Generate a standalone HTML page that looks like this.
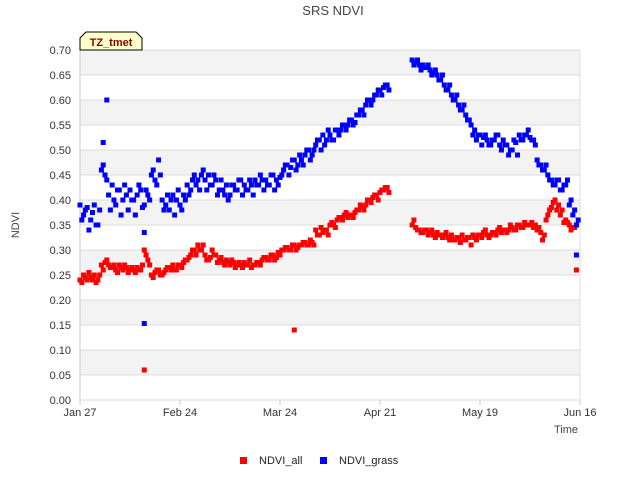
<!DOCTYPE html>
<html><head><meta charset="utf-8"><style>
body{margin:0;background:#fff;font-family:"Liberation Sans",sans-serif}
</style></head><body>
<svg id="chart" width="640" height="480" xmlns="http://www.w3.org/2000/svg" font-family="Liberation Sans, sans-serif">
<text x="333" y="15" text-anchor="middle" font-size="13" fill="#444">SRS NDVI</text>
<g id="bands"></g>
<g id="grid"></g>
<g id="yticks"></g>
<g id="xticks"></g>
<g id="marks"></g>
<text x="19" y="225" text-anchor="middle" font-size="11" fill="#444" transform="rotate(-90 19 225)">NDVI</text>
<text x="578" y="433" text-anchor="end" font-size="11" fill="#444">Time</text>
<g>
<path d="M80,50 L80,38 L86,32 L136,32 L142,38 L142,50 Z" fill="#ffffcc" stroke="#000" stroke-width="1"/>
<text x="111" y="46" text-anchor="middle" font-size="11" font-weight="bold" fill="#8b0000">TZ_tmet</text>
</g>
<g>
<g><rect x="240" y="457" width="7" height="7" fill="#f00"/><text x="259" y="464" font-size="11" fill="#222">NDVI_all</text></g>
<g><rect x="320" y="457" width="7" height="7" fill="#00f"/><text x="339" y="464" font-size="11" fill="#222">NDVI_grass</text></g>
</g>
</svg>
<script>
const xTickLabels=["Jan 27","Feb 24","Mar 24","Apr 21","May 19","Jun 16"];
const xTickDays=[0,28,56,84,112,140];
const yTicks=[0,0.05,0.1,0.15,0.2,0.25,0.3,0.35,0.4,0.45,0.5,0.55,0.6,0.65,0.7];
const N=null;
const allA=[.24,.25,.24,.245,.25,.24,.27,.275,.27,.265,.26,.27,.26,.265,.26,.26,.265,.26,.30,.28,.25,.255,.26,.25,.26,.265,.27,.26,.27,.275,.28,.29,.30,.31,.30,.29,.28,.30,.29,.28,.275,.28,.27,.275,.27,.27,.275,.27,.265,.27,.275,.28,.285,.28,.29,.285,.29,.30,.305,.30,.31,.305,.31,.315,.31,.315,.34,.33,.335,.34,.35,.35,.36,.365,.37,.365,.37,.375,.38,.385,.39,.40,.405,.41,.415,.42,.425,N,N,N,N,N,N,.35,.345,.34,.335,.34,.335,.33,.335,.33,.33,.325,.33,.32,.325,.33,.32,.325,.33,.32,.33,.335,.33,.33,.335,.34,.335,.34,.34,.345,.34,.35,.345,.35,.35,.345,.34,.335,.33,.37,.385,.40,.39,.38,.36,.35,.345,.35];
const allB=[.235,.245,.255,.24,.235,.25,.26,.28,.265,.27,.255,.265,.27,.255,.265,.255,.26,.27,.29,.27,.245,.26,.25,.255,.265,.26,.26,.27,.265,.28,.285,.30,.29,.30,.31,.28,.285,.29,.275,.285,.27,.275,.28,.265,.275,.265,.27,.28,.27,.275,.27,.285,.28,.29,.28,.295,.30,.305,.30,.31,.30,.31,.315,.31,.32,.31,.33,.345,.34,.33,.355,.345,.365,.36,.375,.37,.365,.38,.39,.38,.40,.395,.41,.40,.42,.425,.415,N,N,N,N,N,N,.36,.34,.335,.34,.33,.34,.325,.33,.325,.335,.32,.32,.325,.315,.32,.325,.31,.325,.33,.325,.34,.325,.335,.33,.345,.34,.335,.35,.34,.35,.345,.355,.35,.355,.35,.345,.32,.36,.38,.395,.38,.37,.355,.355,.34,.345];
const grassA=[.39,.37,.385,.36,.39,.35,.46,.45,.41,.43,.39,.42,.40,.41,.42,.40,.41,.42,.39,.41,.45,.44,.48,.40,.39,.38,.41,.40,.39,.41,.43,.42,.45,.44,.45,.44,.45,.43,.44,.42,.42,.43,.41,.43,.42,.44,.43,.42,.43,.44,.43,.44,.44,.43,.45,.44,.445,.46,.47,.465,.48,.47,.48,.49,.50,.49,.51,.52,.53,.52,.53,.52,.54,.54,.55,.55,.56,.555,.57,.58,.59,.60,.60,.61,.62,.625,.63,N,N,N,N,N,N,.68,.675,.67,.67,.665,.66,.655,.65,.64,.63,.62,.61,.60,.59,.58,.57,.56,.53,.52,.53,.525,.52,.51,.52,.53,.50,.51,.49,.50,.515,.53,.52,.53,.525,.52,.48,.47,.46,.45,.44,.43,.44,.42,.43,.39,.37,.35];
const grassB=[.36,.38,.34,.375,.35,.38,.47,.44,.38,.40,.42,.37,.43,.38,.40,.37,.43,.385,.42,.40,.46,.43,.45,.38,.41,.40,.37,.42,.38,.40,.41,.44,.43,.42,.46,.42,.43,.45,.41,.44,.41,.40,.43,.42,.44,.41,.42,.44,.41,.43,.45,.42,.43,.45,.42,.43,.45,.47,.45,.48,.46,.49,.47,.50,.48,.50,.52,.50,.51,.54,.52,.54,.53,.55,.54,.56,.55,.57,.58,.57,.60,.59,.61,.62,.61,.63,.62,N,N,N,N,N,N,.67,.68,.66,.665,.67,.65,.66,.64,.65,.62,.63,.60,.61,.58,.59,.56,.55,.54,.53,.51,.53,.51,.52,.53,.51,.52,.51,.50,.52,.49,.52,.53,.54,.52,.51,.47,.46,.47,.44,.43,.44,.42,.43,.44,.40,.38,.36];
const outDays=[18,60,139,6.5,7.5,18,18,139];
const outVals=[0.06,0.14,0.26,0.515,0.60,0.335,0.153,0.29];
const outSeries=["all","all","all","grass","grass","grass","grass","grass"];
const X0=80,X1=580,Y0=400,Y1=50,DMAX=140,VMAX=0.7;
const xs=d=>X0+(X1-X0)*d/DMAX, ys=v=>Y0-(Y0-Y1)*v/VMAX;
const NS="http://www.w3.org/2000/svg";
function mk(t,a,p){const e=document.createElementNS(NS,t);for(const k in a)e.setAttribute(k,a[k]);p.appendChild(e);return e;}
const bands=document.getElementById('bands'),grid=document.getElementById('grid'),yt=document.getElementById('yticks'),xt=document.getElementById('xticks'),marks=document.getElementById('marks');
for(let i=0;i<yTicks.length-1;i++){ if(i%2===1){const r=mk('rect',{x:X0,y:ys(yTicks[i+1]),width:X1-X0,height:ys(yTicks[i])-ys(yTicks[i+1]),fill:'#f3f3f3'},bands);}}
yTicks.forEach(v=>{const l=mk('line',{x1:X0,x2:X1,y1:ys(v),y2:ys(v),stroke:'#ddd'},grid);
const t=mk('text',{x:X0-9,y:ys(v)+4,'text-anchor':'end','font-size':11,fill:'#333'},yt);t.textContent=v.toFixed(2);});
mk('line',{x1:X0,x2:X0,y1:Y1,y2:Y0,stroke:'#ccc'},grid);mk('line',{x1:X1,x2:X1,y1:Y1,y2:Y0,stroke:'#ddd'},grid);
xTickDays.forEach((d,i)=>{mk('line',{x1:xs(d),x2:xs(d),y1:Y0,y2:Y0+5,stroke:'#ccc'},xt);const t=mk('text',{x:xs(d),y:Y0+16,'text-anchor':'middle','font-size':11,fill:'#333'},xt);t.textContent=xTickLabels[i];});
function pt(d,v,c,n){const r=mk('rect',{x:xs(d)-2.5,y:ys(v)-2.5,width:5,height:5,fill:c},marks);}
allA.forEach((v,d)=>{if(v!==null)pt(d,v,'#f00','point-ndvi-all');});
allB.forEach((v,d)=>{if(v!==null)pt(d+0.5,v,'#f00','point-ndvi-all');});
grassA.forEach((v,d)=>{if(v!==null)pt(d,v,'#00f','point-ndvi-grass');});
grassB.forEach((v,d)=>{if(v!==null)pt(d+0.5,v,'#00f','point-ndvi-grass');});
outDays.forEach((d,i)=>pt(d,outVals[i],outSeries[i]==='all'?'#f00':'#00f',outSeries[i]==='all'?'point-ndvi-all':'point-ndvi-grass'));
</script>
</body></html>
